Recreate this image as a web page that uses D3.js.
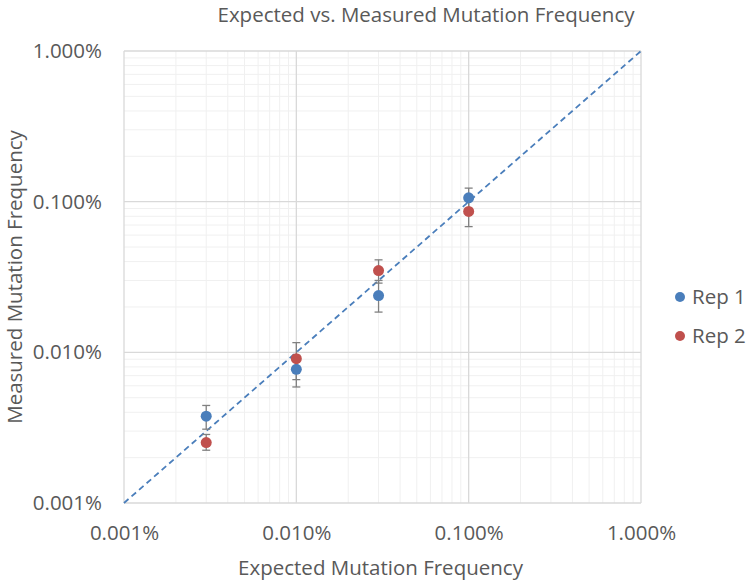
<!DOCTYPE html>
<html>
<head>
<meta charset="utf-8">
<script src="https://cdn.jsdelivr.net/npm/d3@7"></script>
<style>
  body { margin: 0; background: #fff; }
  text { font-family: "Open Sans", "Segoe UI", sans-serif; fill: #595959; }
</style>
</head>
<body>
<svg id="chart"></svg>
<script>
var width = 750;
var height = 583;

// values are fractions (0.001% = 1e-5)
var expected = [0.00003, 0.0001, 0.0003, 0.001];
var rep1 = [0.0000377, 0.0000772, 0.000238, 0.00106];
var rep1Low = [0.0000309, 0.0000589, 0.000185, 0.00089];
var rep1High = [0.0000444, 0.0000955, 0.000300, 0.00123];
var rep2 = [0.0000252, 0.0000908, 0.000349, 0.000862];
var rep2Low = [0.0000224, 0.0000659, 0.000288, 0.000683];
var rep2High = [0.0000285, 0.000116, 0.000411, 0.00104];
var tickValues = [0.00001, 0.0001, 0.001, 0.01];
var seriesNames = ["Rep 1", "Rep 2"];
var seriesColors = ["#4a7ebb", "#c0504d"];

function drawChart() {
    var plotLeft = 124, plotRight = 641, plotTop = 51, plotBottom = 503;
    var fontSize = "20.5px";

    var x = d3.scaleLog().domain([0.00001, 0.01]).range([plotLeft, plotRight]);
    var y = d3.scaleLog().domain([0.00001, 0.01]).range([plotBottom, plotTop]);

    var svg = d3.select("#chart")
        .attr("width", width)
        .attr("height", height);

    // minor grid
    var minor = [];
    [0.00001, 0.0001, 0.001].forEach(function (d) {
        for (var k = 2; k < 10; k++) minor.push(d * k);
    });
    svg.append("g").selectAll("line").data(minor).enter().append("line")
        .attr("x1", function (d) { return x(d); })
        .attr("x2", function (d) { return x(d); })
        .attr("y1", plotTop).attr("y2", plotBottom)
        .attr("stroke", "#f0f0f0").attr("stroke-width", 1);
    svg.append("g").selectAll("line").data(minor).enter().append("line")
        .attr("y1", function (d) { return y(d); })
        .attr("y2", function (d) { return y(d); })
        .attr("x1", plotLeft).attr("x2", plotRight)
        .attr("stroke", "#f0f0f0").attr("stroke-width", 1);

    // major grid
    svg.append("g").selectAll("line").data(tickValues).enter().append("line")
        .attr("x1", function (d) { return x(d); })
        .attr("x2", function (d) { return x(d); })
        .attr("y1", plotTop).attr("y2", plotBottom)
        .attr("stroke", "#d9d9d9").attr("stroke-width", 1.3);
    svg.append("g").selectAll("line").data(tickValues).enter().append("line")
        .attr("y1", function (d) { return y(d); })
        .attr("y2", function (d) { return y(d); })
        .attr("x1", plotLeft).attr("x2", plotRight)
        .attr("stroke", "#d9d9d9").attr("stroke-width", 1.3);

    // axes (labels only)
    var fmt = function (d) { return (d * 100).toFixed(3) + "%"; };
    var xAxis = svg.append("g")
        .attr("transform", "translate(0," + plotBottom + ")")
        .call(d3.axisBottom(x).tickValues(tickValues).tickFormat(fmt).tickSize(0).tickPadding(22));
    var yAxis = svg.append("g")
        .attr("transform", "translate(" + plotLeft + ",0)")
        .call(d3.axisLeft(y).tickValues(tickValues).tickFormat(fmt).tickSize(0).tickPadding(22));
    [xAxis, yAxis].forEach(function (a) {
        a.select(".domain").remove();
        a.selectAll("text")
            .style("font-family", "'Open Sans', sans-serif")
            .style("font-size", fontSize)
            .attr("fill", "#595959");
    });

    // y = x reference line
    svg.append("line")
        .attr("x1", x(0.00001)).attr("y1", y(0.00001))
        .attr("x2", x(0.01)).attr("y2", y(0.01))
        .attr("stroke", "#4a7ebb")
        .attr("stroke-width", 1.8)
        .attr("stroke-dasharray", "6,4");

    // error bars
    var series = [
        { vals: rep1, lo: rep1Low, hi: rep1High },
        { vals: rep2, lo: rep2Low, hi: rep2High }
    ];
    series.forEach(function (s) {
        var g = svg.append("g");
        expected.forEach(function (e, i) {
            var cx = x(e);
            g.append("line")
                .attr("x1", cx).attr("x2", cx)
                .attr("y1", y(s.lo[i])).attr("y2", y(s.hi[i]))
                .attr("stroke", "#808080").attr("stroke-width", 1.3);
            [s.lo[i], s.hi[i]].forEach(function (v) {
                g.append("line")
                    .attr("x1", cx - 4).attr("x2", cx + 4)
                    .attr("y1", y(v)).attr("y2", y(v))
                    .attr("stroke", "#808080").attr("stroke-width", 1.3);
            });
        });
    });
    // points
    series.forEach(function (s, si) {
        svg.append("g").selectAll("circle").data(s.vals).enter().append("circle")
            .attr("cx", function (d, i) { return x(expected[i]); })
            .attr("cy", function (d) { return y(d); })
            .attr("r", 5.5)
            .attr("fill", seriesColors[si]);
    });

    // legend
    seriesNames.forEach(function (n, i) {
        var ly = 297 + i * 39;
        svg.append("circle").attr("cx", 680).attr("cy", ly).attr("r", 5).attr("fill", seriesColors[i]);
        svg.append("text").attr("x", 692).attr("y", ly + 7)
            .style("font-size", fontSize).text(n);
    });

    // titles
    svg.append("text")
        .attr("x", 426).attr("y", 22)
        .attr("text-anchor", "middle")
        .style("font-size", fontSize)
        .text("Expected vs. Measured Mutation Frequency");
    svg.append("text")
        .attr("x", (plotLeft + plotRight) / 2 - 2).attr("y", 575)
        .attr("text-anchor", "middle")
        .style("font-size", fontSize)
        .text("Expected Mutation Frequency");
    svg.append("text")
        .attr("transform", "translate(22," + ((plotTop + plotBottom) / 2) + ") rotate(-90)")
        .attr("text-anchor", "middle")
        .style("font-size", fontSize)
        .text("Measured Mutation Frequency");
}

drawChart();
</script>
</body>
</html>
